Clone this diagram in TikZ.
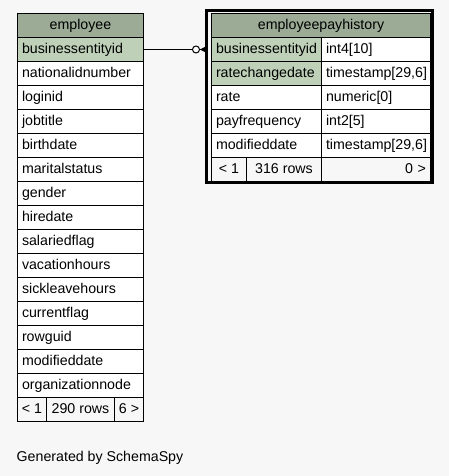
\documentclass[tikz,border=0pt]{standalone}
\usepackage{fontspec}
\setmainfont{Liberation Sans}
\usetikzlibrary{arrows.meta}
\definecolor{headbg}{HTML}{9BAB96}
\definecolor{keybg}{HTML}{BED1B8}
\definecolor{pagebg}{HTML}{F7F7F7}
\tikzset{
  cell/.style={draw, line width=1pt, anchor=north west, inner xsep=4.5pt, inner ysep=0pt,
    minimum height=24pt, text height=10.5pt, text depth=2.5pt, fill=white,
    text width=#1, align=left},
  headcell/.style={cell=#1, fill=headbg, align=center},
  keycell/.style={cell=#1, fill=keybg},
  footcell/.style={draw, line width=1pt, anchor=north west, inner xsep=0pt, inner ysep=0pt,
    minimum height=24pt, text height=10.5pt, text depth=2.5pt, fill=pagebg, minimum width=#1},
  relline/.style={line width=1pt, -{Circle[open, length=8pt, fill=white, line width=1pt] Triangle[reversed, length=6pt, width=6pt]}}
}
\begin{document}
\begin{tikzpicture}[x=1pt, y=-1pt, font=\fontsize{14.2pt}{17pt}\selectfont]
  % page background
  \fill[pagebg] (0,0) rectangle (449,476);
  \useasboundingbox (0,0) rectangle (449,476);

  % Table employee
  \node[headcell=117pt] (emptitle) at (17,13) {employee};
  \node[keycell=117pt] (emp0) at (17,37) {businessentityid};
  \foreach \col [count=\i] in {nationalidnumber, loginid, jobtitle, birthdate,
      maritalstatus, gender, hiredate, salariedflag, vacationhours, sickleavehours,
      currentflag, rowguid, modifieddate, organizationnode}
    \node[cell=117pt] (emp\i) at (17,37+24*\i) {\col};
  \node[footcell=29pt] (empprev) at (17,397) {< 1};
  \node[footcell=68pt] (emprows) at (46,397) {290 rows};
  \node[footcell=29pt] (empnext) at (114,397) {6 >};

  % Table employeepayhistory
  \node[headcell=210pt] (ephtitle) at (211,13) {employeepayhistory};
  \node[keycell=101pt] (eph0) at (211,37) {businessentityid};
  \node[cell=100pt] (ephtype0) at (321,37) {int4[10]};
  \node[keycell=101pt] (eph1) at (211,61) {ratechangedate};
  \node[cell=100pt] (ephtype1) at (321,61) {timestamp[29,6]};
  \node[cell=101pt] (eph2) at (211,85) {rate};
  \node[cell=100pt] (ephtype2) at (321,85) {numeric[0]};
  \node[cell=101pt] (eph3) at (211,109) {payfrequency};
  \node[cell=100pt] (ephtype3) at (321,109) {int2[5]};
  \node[cell=101pt] (eph4) at (211,133) {modifieddate};
  \node[cell=100pt] (ephtype4) at (321,133) {timestamp[29,6]};
  \node[footcell=35pt] (ephprev) at (211,157) {< 1};
  \node[footcell=75pt] (ephrows) at (246,157) {316 rows};
  \node[cell=100pt, fill=pagebg, align=right] (ephnext) at (321,157) {0 >};

  % Relationship employee -> employeepayhistory
  \draw[relline] (emp0.east) -- ([xshift=-5pt]eph0.west);

  % focus frame
  \draw[line width=3pt] (206.8,10.4) rectangle (432.3,182);

  \node[anchor=base west, inner sep=0pt] (credit) at (16.5,461) {Generated by SchemaSpy};
\end{tikzpicture}
\end{document}
